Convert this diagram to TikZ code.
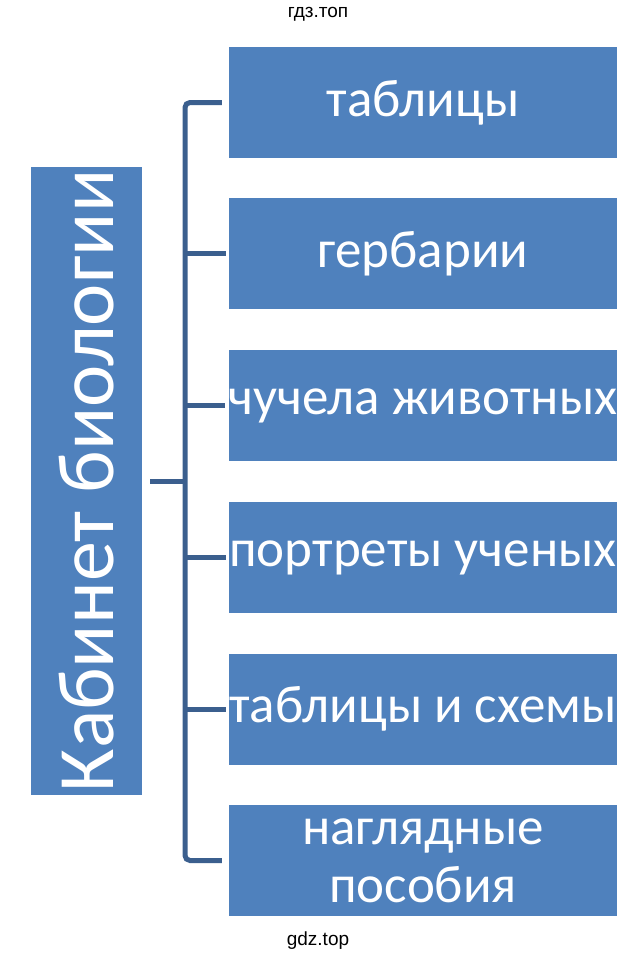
\documentclass[tikz,border=0pt]{standalone}
\usepackage{fontspec}
\setmainfont{Carlito}
\newfontfamily\wmfont{Liberation Sans}
\usetikzlibrary{calc}
\definecolor{boxblue}{HTML}{4F81BD}
\definecolor{linkblue}{HTML}{3B5F8E}
\tikzset{
  itembox/.style={rectangle, fill=boxblue, draw=none, minimum width=388pt, minimum height=111pt,
    inner sep=0pt, text=white, align=center, font=\fontsize{53}{58}\selectfont},
  mainbox/.style={rectangle, fill=boxblue, draw=none, minimum width=111pt, minimum height=628pt,
    inner sep=0pt, text=white, font=\fontsize{80}{86}\selectfont},
  link/.style={draw=linkblue, line width=5pt},
  wm/.style={font=\wmfont\fontsize{19}{22}\selectfont, text=black}
}
\begin{document}
\begin{tikzpicture}[x=1pt,y=-1pt]
\useasboundingbox (0,0) rectangle (635,962);
\node[wm] (wtop) at (318,14) {гдз.топ};
\node[wm] (wbot) at (318,941) {gdz.top};
\node[mainbox] (main) at (86.5,481) {\rotatebox{90}{Кабинет биологии}};
\node[itembox] (b1) at (423,102.5) {таблицы};
\node[itembox] (b2) at (423,253.5) {гербарии};
\node[itembox] (b3) at (423,405.5) {чучела животных};
\node[itembox] (b4) at (423,557.5) {портреты ученых};
\node[itembox] (b5) at (423,709) {таблицы и схемы};
\node[itembox] (b6) at (423,860.5) {наглядные\\пособия};
\coordinate (hub) at (185,481);
\draw[link] ([xshift=8pt]main.east) -- (hub);
\draw[link, rounded corners=5pt] ([xshift=-7pt]b1.west) -| (hub) |- ([xshift=-7pt]b6.west);
\foreach \b in {b2,b3,b4,b5}{
  \draw[link] (\b.west -| hub) -- ([xshift=-3pt]\b.west);
}
\end{tikzpicture}
\end{document}
